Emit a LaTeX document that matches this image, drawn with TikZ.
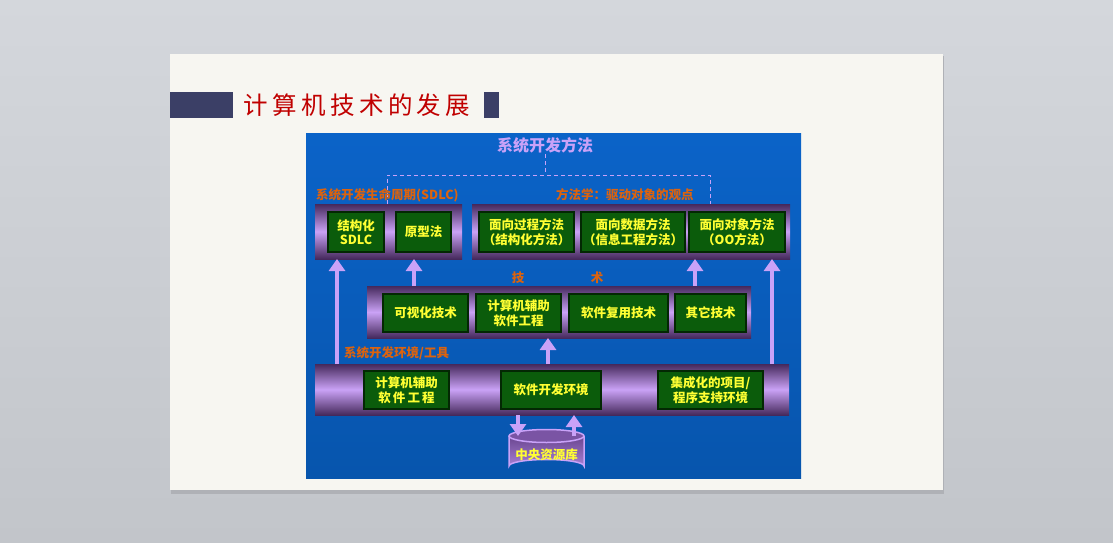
\documentclass[tikz,border=0pt]{standalone}
\usepackage{fontspec}
\setmainfont{Noto Sans CJK SC}
\usepackage{tikz}
\usetikzlibrary{arrows.meta}

\definecolor{bgtop}{HTML}{D4D7DC}
\definecolor{bgbot}{HTML}{C2C5CA}
\definecolor{slide}{HTML}{F7F6F1}
\definecolor{navy}{HTML}{3B3F66}
\definecolor{titlered}{HTML}{C00000}
\definecolor{panelhi}{HTML}{0B63C8}
\definecolor{panello}{HTML}{0755AD}
\definecolor{tubedark}{HTML}{45295C}
\definecolor{tubelight}{HTML}{CAA2F6}
\definecolor{boxgreen}{HTML}{0B5C0B}
\definecolor{boxedge}{HTML}{032803}
\definecolor{txtyellow}{HTML}{FFFF33}
\definecolor{lblorange}{HTML}{DC630E}
\definecolor{violet}{HTML}{C9A2F8}
\definecolor{cyltop}{HTML}{6A4690}
\definecolor{cylbot}{HTML}{A67ED2}
\definecolor{cylend}{HTML}{7A54A4}

\tikzset{
  tube/.style={top color=tubedark,bottom color=tubedark,middle color=tubelight,
    draw=none,inner sep=0pt,outer sep=0pt},
  gbox/.style={fill=boxgreen,draw=boxedge,line width=1.2pt,text=txtyellow,
    font=\fontsize{12.5}{14.5}\selectfont\bfseries,align=center,inner sep=0pt,outer sep=0pt},
  lbl/.style={text=lblorange,font=\fontsize{12.5}{14}\selectfont\bfseries,inner sep=0pt},
  uparrow/.style={draw=violet,line width=4.5pt,-{Triangle[width=16pt,length=12pt]}},
  dashline/.style={draw=violet,line width=1pt,dash pattern=on 4pt off 3pt},
}

\begin{document}
\begin{tikzpicture}[x=1pt,y=-1pt]

%% Fond et diapositive
\shade[top color=bgtop,bottom color=bgbot] (0,0) rectangle (1113,543);
\useasboundingbox (0,0) rectangle (1113,543);
\fill[bgbot!90!black] (171,56) rectangle (944,494);
\fill[slide] (170,54) rectangle (943,490);

%% Titre
\fill[navy] (170,92) rectangle (233,118);
\fill[navy] (484,92) rectangle (499,118);
\node[text=titlered,font=\fontsize{24.5}{25}\selectfont\addfontfeatures{LetterSpace=18},anchor=west] (title) at (240,105) {计算机技术的发展};

%% Panneau bleu
\shade[top color=panelhi,bottom color=panello] (306,133) rectangle (801,478);
\node[text=violet,font=\fontsize{16}{18}\selectfont\bfseries,inner sep=1pt] (method) at (545,145) {系统开发方法};

%% Barres du haut
\node[tube,minimum width=147,minimum height=55] (sdlcbar) at (388.5,231.5) {};
\node[tube,minimum width=318,minimum height=55] (methbar) at (631,231.5) {};

%% Pointillés
\coordinate (dl) at (387,175);
\coordinate (dr) at (710,175);
\draw[dashline] (method.south) -- (method.south |- dl);
\draw[dashline] (sdlcbar.north -| dl) -- (dl) -- (dr) -- (methbar.north -| dr);

\node[lbl,anchor=west] (sdlclbl) at (316,195) {系统开发生命周期(SDLC)};
\node[lbl,anchor=west] (methlbl) at (556,195) {方法学：驱动对象的观点};

\node[gbox,minimum width=56,minimum height=40] (struct) at (356,232) {结构化\\SDLC};
\node[gbox,minimum width=55,minimum height=40] (proto) at (423.5,232) {原型法};
\node[gbox,minimum width=95,minimum height=40] (proc) at (526.5,232) {面向过程方法\\（结构化方法）};
\node[gbox,minimum width=104,minimum height=40] (data) at (633,232) {面向数据方法\\（信息工程方法）};
\node[gbox,minimum width=96,minimum height=40] (oo) at (737,232) {面向对象方法\\（OO方法）};

%% Barre technique
\node[lbl] (tech1) at (518,278) {技};
\node[lbl] (tech2) at (597,278) {术};
\node[tube,minimum width=384,minimum height=52] (techbar) at (559,312) {};
\node[gbox,minimum width=85,minimum height=38] (vis) at (425.5,313) {可视化技术};
\node[gbox,minimum width=85,minimum height=38] (casea) at (518.5,313) {计算机辅助\\软件工程};
\node[gbox,minimum width=99,minimum height=38] (reuse) at (618.5,313) {软件复用技术};
\node[gbox,minimum width=71,minimum height=38] (other) at (710.5,313) {其它技术};

%% Barre environnement
\node[lbl,anchor=west] (envlbl) at (344,353) {系统开发环境/工具};
\node[tube,minimum width=474,minimum height=51] (envbar) at (552,389.5) {};
\node[gbox,minimum width=85,minimum height=38] (caseb) at (406.5,390) {计算机辅助\\软\,件\,工\,程};
\node[gbox,minimum width=100,minimum height=38] (sde) at (551,390) {软件开发环境};
\node[gbox,minimum width=105,minimum height=38] (ipse) at (710.5,390) {集成化的项目/\\程序支持环境};

%% Référentiel
\coordinate (repotop) at (546.5,436);
\shade[top color=cyltop,bottom color=cylbot]
  (509,436) -- (509,466) arc[start angle=180,end angle=360,x radius=37.5,y radius=6.5]
  -- (584,436) arc[start angle=0,end angle=180,x radius=37.5,y radius=6.5] -- cycle;
\draw[violet,line width=1.5pt]
  (509,436) -- (509,466) arc[start angle=180,end angle=360,x radius=37.5,y radius=6.5]
  -- (584,436);
\filldraw[fill=cylend,draw=violet,line width=1.5pt] (repotop) ellipse[x radius=37.5,y radius=6.5];
\node[text=txtyellow,font=\fontsize{12.5}{14}\selectfont\bfseries,inner sep=0pt] (repo) at (546.5,455) {中央资源库};

%% Flèches
\coordinate (a1) at (337,0);
\coordinate (a2) at (414,0);
\coordinate (a3) at (548,0);
\coordinate (a4) at (695,0);
\coordinate (a5) at (772,0);
\coordinate (a6) at (518,0);
\coordinate (a7) at (574,0);
\draw[uparrow] (envbar.north -| a1) -- (sdlcbar.south -| a1);
\draw[uparrow] (techbar.north -| a2) -- (sdlcbar.south -| a2);
\draw[uparrow] (techbar.north -| a4) -- (methbar.south -| a4);
\draw[uparrow] (envbar.north -| a5) -- (methbar.south -| a5);
\draw[uparrow] (envbar.north -| a3) -- (techbar.south -| a3);
\draw[uparrow] (envbar.south -| a6) -- (repotop -| a6);
\draw[uparrow] (repotop -| a7) -- (envbar.south -| a7);

\end{tikzpicture}
\end{document}
